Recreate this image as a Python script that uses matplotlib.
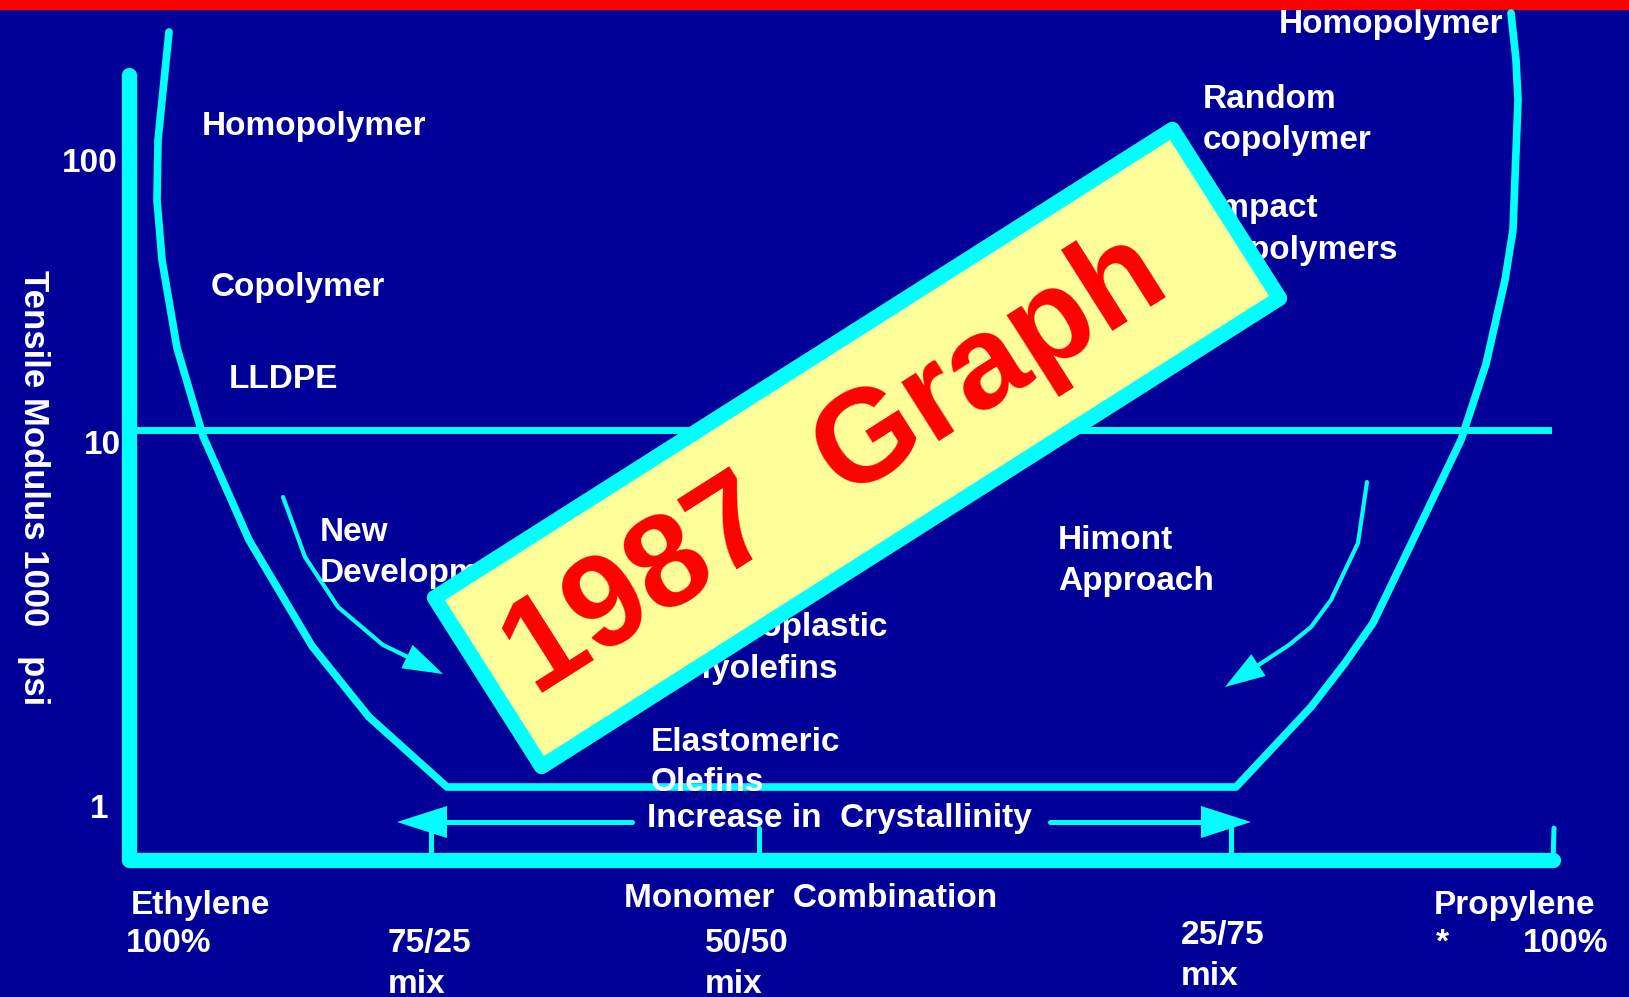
import matplotlib.pyplot as plt
import numpy as np
from matplotlib.patches import Polygon, Rectangle

# colours of the slide
BG = '#000099'
CYAN = '#00FFFF'
RED = '#FF0000'
YELLOW = '#FFFF99'
W, H = 1629, 997

# main "bathtub" curve (pixel coords, y down)
curve_x = [169, 158, 157, 162, 177, 203, 249, 312, 369, 447,
           1236, 1311, 1345, 1373, 1413, 1461, 1486, 1505, 1513, 1518, 1516, 1511]
curve_y = [32, 140, 200, 260, 348, 436, 540, 646, 717, 787,
           787, 707, 663, 623, 540, 440, 364, 280, 230, 100, 60, 13]

# "New Developments" and "Himont Approach" arrows
newdev_x = [283, 305, 338, 383, 443]
newdev_y = [497, 557, 607, 645, 674]
himont_x = [1367, 1358, 1331, 1311, 1289, 1225]
himont_y = [482, 543, 600, 627, 645, 687]

# log axis labels
ytick_labels = ['100', '10', '1']
ytick_x = [118, 121, 108]
ytick_y = [163, 445, 809]
grid10_y = 430

# monomer combination ticks on the x axis
xtick_x = [431, 759, 1231]

# overlay stamp
stamp_text = '1987  Graph'
stamp_center = (857, 448)
stamp_size = (874, 200)
stamp_angle = 32.4

labels = [
    ('Homopolymer', 202, 127, 'left'),
    ('Copolymer', 211, 287, 'left'),
    ('LLDPE', 229, 379, 'left'),
    ('Homopolymer', 1503, 25, 'right'),
    ('Random', 1203, 100, 'left'),
    ('copolymer', 1203, 141, 'left'),
    ('Impact', 1211, 208, 'left'),
    ('copolymers', 1211, 250, 'left'),
    ('New', 320, 532, 'left'),
    ('Developments', 320, 573, 'left'),
    ('Thermoplastic', 660, 627, 'left'),
    ('Polyolefins', 660, 669, 'left'),
    ('Himont', 1058, 540, 'left'),
    ('Approach', 1058, 581, 'left'),
    ('Elastomeric', 651, 742, 'left'),
]
bottom_labels = [
    ('Olefins', 651, 782),
    ('Increase in  Crystallinity', 647, 818),
    ('Monomer  Combination', 624, 898),
    ('Ethylene', 131, 905),
    ('100%', 126, 943),
    ('75/25', 388, 943),
    ('mix', 388, 984),
    ('50/50', 705, 943),
    ('mix', 705, 984),
    ('25/75', 1181, 935),
    ('mix', 1181, 976),
    ('Propylene', 1434, 905),
    ('*', 1436, 943),
    ('100%', 1523, 943),
]

plt.rcParams['font.family'] = ['Liberation Sans', 'DejaVu Sans']

fig = plt.figure(figsize=(W / 100, H / 100), dpi=100, facecolor=BG)
ax = fig.add_axes([0, 0, 1, 1])
ax.set_xlim(0, W)
ax.set_ylim(H, 0)
ax.axis('off')
ax.set_facecolor(BG)

# red stripe at top
ax.add_patch(Rectangle((0, 0), W, 9, color=RED, zorder=1))

# axes frame
ax.plot([129, 129, 1553], [75, 860, 860], color=CYAN, lw=11,
        solid_capstyle='round', solid_joinstyle='round', zorder=2)
ax.plot([1553, 1554], [862, 828], color=CYAN, lw=3.6, solid_capstyle='round', zorder=2)
ax.plot([129, 1548], [grid10_y, grid10_y], color=CYAN, lw=5, zorder=2)
for tx in xtick_x:
    ax.plot([tx, tx], [855, 828], color=CYAN, lw=3.6, solid_capstyle='round', zorder=2)

# main curve
ax.plot(curve_x, curve_y, color=CYAN, lw=5.5, solid_capstyle='round',
        solid_joinstyle='round', zorder=3)


def arrow_head(x, y, length, width, **kw):
    tip = np.array([x[-1], y[-1]], float)
    prev = np.array([x[-2], y[-2]], float)
    d = (tip - prev) / np.hypot(*(tip - prev))
    n = np.array([-d[1], d[0]])
    base = tip - d * length
    pts = [tip, base + n * width / 2, base - n * width / 2]
    ax.add_patch(Polygon(pts, closed=True, color=CYAN, lw=0, **kw))
    return base


for xs, ys in [(newdev_x, newdev_y), (himont_x, himont_y)]:
    base = arrow_head(xs, ys, 40, 26, zorder=3)
    ax.plot(xs[:-1] + [base[0]], ys[:-1] + [base[1]], color=CYAN, lw=3,
            solid_capstyle='round', zorder=3)

# crystallinity arrows
for x0, x1 in [(632, 397), (1050, 1251)]:
    base = arrow_head([x0, x1], [822, 822], 50, 32, zorder=3)
    ax.plot([x0, base[0]], [822, 822], color=CYAN, lw=3.6, solid_capstyle='round', zorder=3)

# text
txt = dict(color='white', fontsize=24, fontweight='bold', va='center')
for s, x, y, ha in labels:
    ax.text(x, y, s, ha=ha, zorder=4, **txt)
for s, x, y in bottom_labels:
    ax.text(x, y, s, ha='left', zorder=6, **txt)
for s, x, y in zip(ytick_labels, ytick_x, ytick_y):
    ax.text(x, y, s, ha='right', zorder=4, **txt)
ax.text(33, 488, 'Tensile Modulus 1000   psi', rotation=-90, ha='center',
        color='white', fontsize=25, fontweight='bold', va='center', zorder=4)

# 1987 stamp
a = np.deg2rad(stamp_angle)
u = np.array([np.cos(a), -np.sin(a)])
v = np.array([np.sin(a), np.cos(a)])
c = np.array(stamp_center, float)
L, Wd = stamp_size
corners = [c - u * L / 2 - v * Wd / 2, c + u * L / 2 - v * Wd / 2,
           c + u * L / 2 + v * Wd / 2, c - u * L / 2 + v * Wd / 2]
ax.add_patch(Polygon(corners, closed=True, facecolor=YELLOW, edgecolor=CYAN,
                     lw=11, joinstyle='round', zorder=5))
ax.text(836, 466, stamp_text, rotation=stamp_angle, rotation_mode='anchor',
        ha='center', va='center', color=RED, fontsize=95, fontweight='bold', zorder=6)

fig.savefig('out.png', dpi=100, facecolor=BG)
